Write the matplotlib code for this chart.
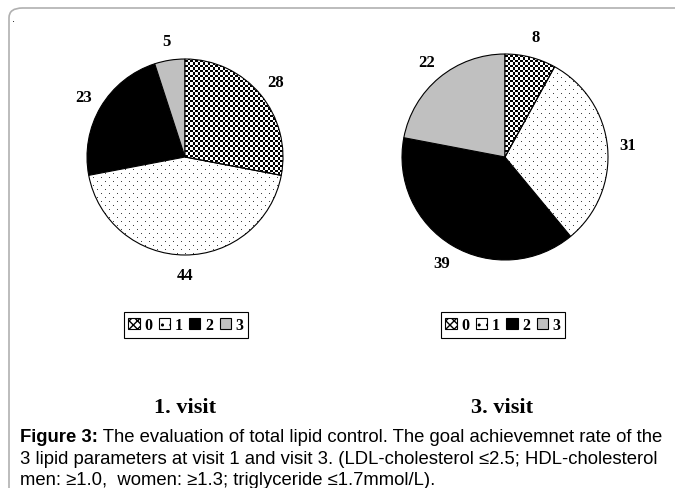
import numpy as np
import matplotlib
matplotlib.use("Agg")
import matplotlib.pyplot as plt
from matplotlib.patches import Patch, FancyBboxPatch

# ---- data ----
categories = ["0", "1", "2", "3"]
visit1_values = [28, 44, 23, 5]
visit3_values = [8, 31, 39, 22]
titles = ["1. visit", "3. visit"]
caption_bold = "Figure 3:"
caption_lines = [
    " The evaluation of total lipid control. The goal achievemnet rate of the",
    "3 lipid parameters at visit 1 and visit 3. (LDL-cholesterol \u22642.5; HDL-cholesterol",
    "men: \u22651.0,  women: \u22651.3; triglyceride \u22641.7mmol/L).",
]

W, H = 675, 489
fig = plt.figure(figsize=(W / 100, H / 100), dpi=100)
fig.patch.set_facecolor("white")

serif = ["Liberation Serif", "DejaVu Serif"]
sans = ["Liberation Sans", "DejaVu Sans"]

# frame with rounded top-left corner
frame = FancyBboxPatch((9 / W, -0.2), 1.2, (H - 9) / H + 0.2,
                       boxstyle="round,pad=0,rounding_size=0.02",
                       transform=fig.transFigure, facecolor="none",
                       edgecolor="#b0b0b0", linewidth=1.2, zorder=0)
fig.patches.append(frame)
fig.text(12 / W, 1 - 22 / H, ".", fontsize=8, color="black", family=sans)


def checker(n):
    idx = np.arange(n)
    a = (idx % 5) < 3
    return np.where(a[:, None] ^ a[None, :], 0.0, 1.0)


def dots(n):
    arr = np.ones((n, n))
    for r in range(0, n, 4):
        off = 4 if (r // 4) % 2 else 0
        arr[r, off::8] = 0.25
    return arr


fill_colors = ["white", "white", "black", "#c0c0c0"]
textures = [checker, dots, None, None]


def draw_pie(cx, cy, r, values):
    N = 280
    lim = N / (2 * r)
    ax = fig.add_axes([(cx - N / 2) / W, (H - cy - N / 2) / H, N / W, N / H])
    wedges, texts = ax.pie(values, labels=[str(v) for v in values],
                           colors=fill_colors, startangle=90, counterclock=False,
                           labeldistance=1.2,
                           wedgeprops=dict(edgecolor="black", linewidth=0.8),
                           textprops=dict(ha="center", va="center", fontsize=12,
                                          fontweight="bold", family=serif))
    for w, tex in zip(wedges, textures):
        if tex is None:
            continue
        w.set_facecolor("none")
        w.set_zorder(3)
        im = ax.imshow(tex(N), cmap="gray", vmin=0, vmax=1,
                       extent=(-lim, lim, -lim, lim), interpolation="nearest",
                       zorder=2)
        im.set_clip_path(w)
    ax.set_xlim(-lim, lim)
    ax.set_ylim(-lim, lim)
    ax.set_aspect("equal")
    ax.axis("off")
    return ax


draw_pie(185, 158, 98, visit1_values)
draw_pie(505, 158, 103, visit3_values)

# legends
handles = [
    Patch(facecolor="white", edgecolor="black", hatch="xxxx", linewidth=0.8),
    Patch(facecolor="white", edgecolor="black", hatch="..", linewidth=0.8),
    Patch(facecolor="black", edgecolor="black", linewidth=0.8),
    Patch(facecolor="#c0c0c0", edgecolor="black", linewidth=0.8),
]
for lx, ly in [(186, 326), (503, 326)]:
    leg = fig.legend(handles, categories, loc="center",
                     bbox_to_anchor=(lx / W, 1 - ly / H), ncol=4,
                     handlelength=0.7, handleheight=0.7, handletextpad=0.3,
                     columnspacing=0.4, borderpad=0.3, fancybox=False,
                     framealpha=1, edgecolor="black",
                     prop=dict(family=serif, weight="bold", size=11.5))
    leg.get_frame().set_linewidth(0.8)

for t, x in zip(titles, [185, 502]):
    fig.text(x / W, 1 - 408 / H, t, ha="center", va="center", fontsize=16,
             fontweight="bold", family=serif)

# caption
fs = 13.3
y0 = 438
t0 = fig.text(20 / W, 1 - y0 / H, caption_bold, fontsize=fs, fontweight="bold",
              family=sans, va="center")
fig.canvas.draw()
bb = t0.get_window_extent()
fig.text(bb.x1 / W, 1 - y0 / H, caption_lines[0], fontsize=fs, family=sans,
         va="center")
for i, line in enumerate(caption_lines[1:]):
    fig.text(20 / W, 1 - (y0 + 21.5 * (i + 1)) / H, line, fontsize=fs,
             family=sans, va="center")

fig.savefig("out.png", dpi=100)
